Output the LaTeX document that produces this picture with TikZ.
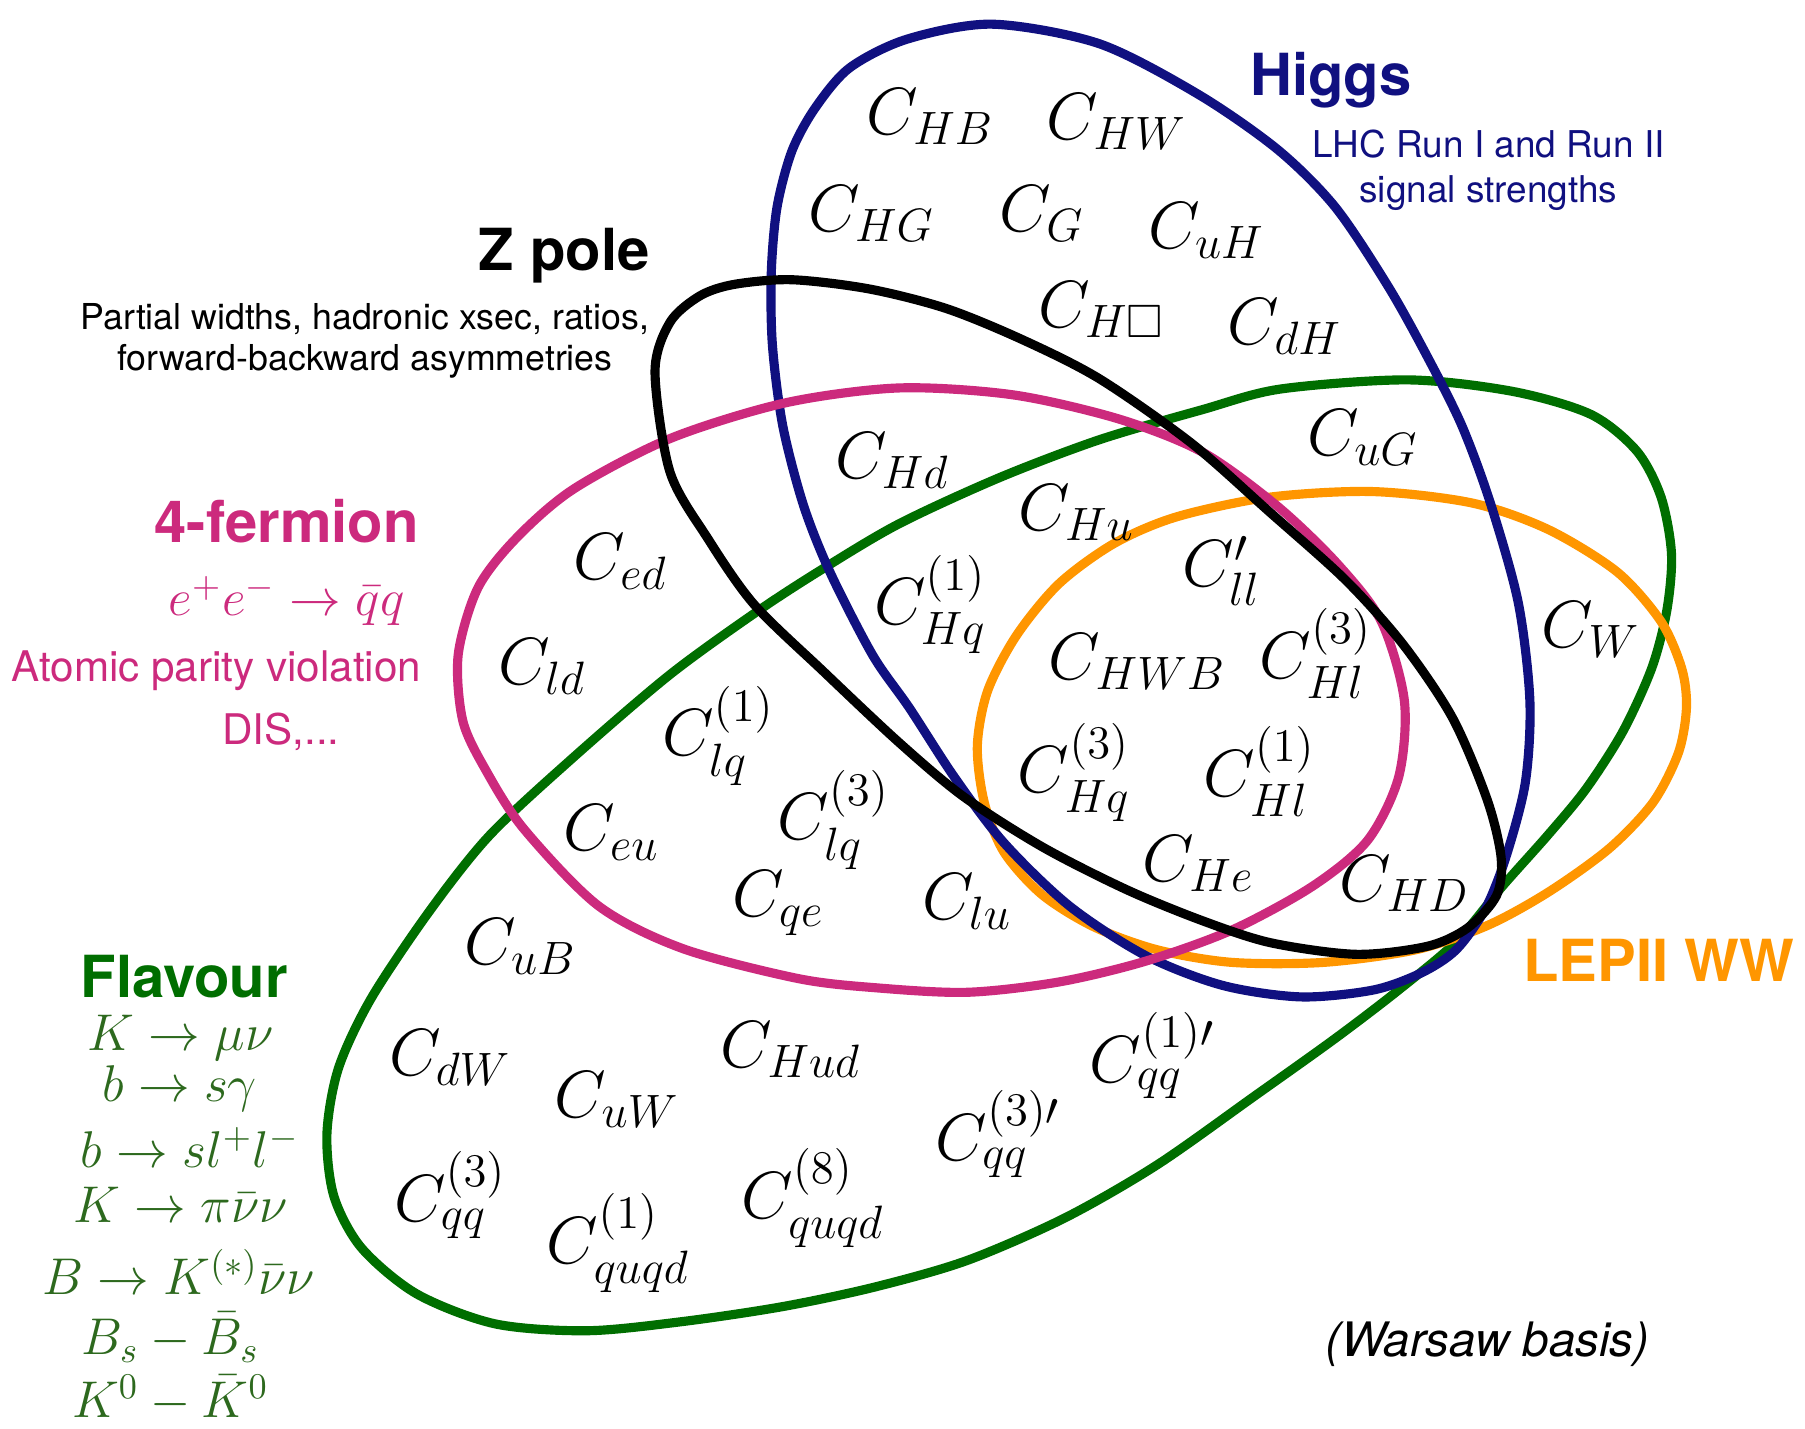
\RequirePackage{fix-cm}
\documentclass[tikz,border=0pt]{standalone}
\usepackage{amssymb}
\usepackage[no-math]{fontspec}
\newfontfamily\helv{TeX Gyre Heros}
\usetikzlibrary{positioning}

\definecolor{higgsblue}{RGB}{16,16,128}
\definecolor{fermimag}{RGB}{204,42,125}
\definecolor{flavgreen}{RGB}{0,110,0}
\definecolor{flavtext}{RGB}{45,105,30}
\definecolor{leporange}{RGB}{255,150,0}

\begin{document}
\begin{tikzpicture}[
    x=0.0115cm, y=-0.0115cm,
    ring/.style={line width=2.6pt, line join=round},
    coef/.style={font=\fontsize{19}{23}\selectfont, inner sep=0pt},
    headline/.style={font=\helv\bfseries\fontsize{16.5}{19}\selectfont, inner sep=0pt},
    remark/.style={font=\helv\fontsize{10.15}{11.5}\selectfont, align=center, inner sep=0pt},
    process/.style={font=\fontsize{14.7}{18}\selectfont, inner sep=0pt}
]
\useasboundingbox (0,0) rectangle (1568,1241);

% Flavour
\draw[ring, flavgreen] plot[smooth cycle] coordinates {
    (1044,356) (1112,338) (1223,330) (1314,340) (1382,360) (1422,392) (1443,432)
    (1452,481) (1448,530) (1435,580) (1410,635) (1378,685) (1345,725) (1305,770)
    (1265,818) (1215,860) (1160,902) (1090,952) (1005,1012) (925,1058) (840,1095)
    (760,1118) (680,1135) (593,1148) (510,1156) (430,1150) (362,1124) (314,1084)
    (290,1039) (284,985) (294,928) (322,868) (372,793) (425,726) (498,658)
    (582,586) (658,531) (715,494) (781,455) (868,415) (955,382)};
% LEPII WW
\draw[ring, leporange] plot[smooth cycle] coordinates {
    (849,648) (858,600) (883,552) (920,507) (968,472) (1022,449) (1102,432)
    (1192,427) (1279,437) (1345,460) (1405,497) (1443,540) (1461,581) (1465,615)
    (1458,654) (1436,697) (1398,737) (1345,775) (1292,804) (1230,825) (1150,836)
    (1070,836) (1005,825) (950,805) (905,777) (872,740) (855,697)};
% Higgs
\draw[ring, higgsblue] plot[smooth cycle] coordinates {
    (862,21) (955,38) (1041,82) (1110,130) (1160,180) (1206,249) (1240,310)
    (1270,370) (1295,438) (1319,524) (1329,609) (1325,680) (1308,745) (1290,790)
    (1265,825) (1235,845) (1193,860) (1130,866) (1062,856) (995,830) (929,787)
    (872,732) (829,675) (790,615) (758,569) (721,497) (698,439) (680,370)
    (671,300) (670,237) (675,180) (688,131) (708,94) (738,59) (788,34)};
% 4-fermion
\draw[ring, fermimag] plot[smooth cycle] coordinates {
    (498,425) (582,381) (682,350) (781,337) (880,343) (972,364) (1045,393)
    (1110,440) (1162,490) (1200,540) (1220,609) (1215,675) (1188,730) (1140,770)
    (1070,808) (995,835) (920,853) (840,862) (760,858) (693,850) (593,824)
    (520,787) (455,720) (422,669) (402,626) (398,569) (415,511) (448,468)};
% Z pole
\draw[ring, black] plot[smooth cycle] coordinates {
    (569,323) (582,280) (608,257) (638,247) (688,243) (755,251) (822,268)
    (888,295) (955,329) (1035,385) (1102,444) (1169,504) (1219,560) (1262,624)
    (1292,695) (1304,745) (1300,778) (1275,806) (1240,822) (1178,829) (1104,819)
    (1045,800) (979,773) (906,736) (837,692) (781,645) (715,583) (655,525)
    (615,468) (582,410)};

% coefficients
\node[coef] (chb) at (808,101) {$C_{HB}$};
\node[coef] (chw) at (970,106) {$C_{HW}$};
\node[coef] (chg) at (757,186) {$C_{HG}$};
\node[coef] (cg) at (905,186) {$C_{G}$};
\node[coef] (cuh) at (1048,200) {$C_{uH}$};
\node[coef] (chbox) at (957,269) {$C_{H\square}$};
\node[coef] (cdh) at (1116,284) {$C_{dH}$};
\node[coef] (cug) at (1184,380) {$C_{uG}$};
\node[coef] (chd) at (775,400) {$C_{Hd}$};
\node[coef] (chu) at (935,445) {$C_{Hu}$};
\node[coef] (cll) at (1061,496) {$C'_{ll}$};
\node[coef] (ced) at (539,488) {$C_{ed}$};
\node[coef] (chq1) at (808,525) {$C^{(1)}_{Hq}$};
\node[coef] (chwb) at (988,575) {$C_{HWB}$};
\node[coef] (chl3) at (1143,568) {$C^{(3)}_{Hl}$};
\node[coef] (cw) at (1382,547) {$C_{W}$};
\node[coef] (cld) at (471,579) {$C_{ld}$};
\node[coef] (clq1) at (624,639) {$C^{(1)}_{lq}$};
\node[coef] (chq3) at (933,671) {$C^{(3)}_{Hq}$};
\node[coef] (chl1) at (1094,670) {$C^{(1)}_{Hl}$};
\node[coef] (clq3) at (724,712) {$C^{(3)}_{lq}$};
\node[coef] (ceu) at (531,723) {$C_{eu}$};
\node[coef] (che) at (1041,750) {$C_{He}$};
\node[coef] (chdd) at (1220,768) {$C_{HD}$};
\node[coef] (cqe) at (676,785) {$C_{qe}$};
\node[coef] (clu) at (840,783) {$C_{lu}$};
\node[coef] (cub) at (452,822) {$C_{uB}$};
\node[coef] (cdw) at (391,919) {$C_{dW}$};
\node[coef] (chud) at (687,912) {$C_{Hud}$};
\node[coef] (cqq1p) at (1001,917) {$C^{(1)\prime}_{qq}$};
\node[coef] (cuw) at (536,955) {$C_{uW}$};
\node[coef] (cqq3p) at (867,985) {$C^{(3)\prime}_{qq}$};
\node[coef] (cqq3) at (391,1038) {$C^{(3)}_{qq}$};
\node[coef] (cquqd8) at (706,1041) {$C^{(8)}_{quqd}$};
\node[coef] (cquqd1) at (537,1080) {$C^{(1)}_{quqd}$};

% Higgs labels
\node[headline, higgsblue] (higgs) at (1156,70) {Higgs};
\node[remark, higgsblue, font=\helv\fontsize{10.5}{12.8}\selectfont] (higgsnote) at (1293,148)
    {LHC Run I and Run II\\signal strengths};

% Z pole labels
\node[headline] (zpole) at (490,222) {Z pole};
\node[remark] (zpolenote) at (317,296)
    {Partial widths, hadronic xsec, ratios,\\forward-backward asymmetries};

% 4-fermion labels
\node[headline, fermimag] (fourf) at (249,453) {4-fermion};
\node[process, fermimag] (eeqq) at (249,522) {$e^+e^-\to\bar{q}q$};
\node[remark, fermimag, font=\helv\fontsize{12}{14}\selectfont] (apv) at (188,583) {Atomic parity violation};
\node[remark, fermimag, font=\helv\fontsize{12}{14}\selectfont] (dis) at (244,636) {DIS,...};

% Flavour labels
\node[headline, flavgreen] (flavour) at (160,848) {Flavour};
\node[process, flavtext] (kmunu) at (157,902) {$K\to\mu\nu$};
\node[process, flavtext] (bsg) at (156,946) {$b\to s\gamma$};
\node[process, flavtext] (bsll) at (165,997) {$b\to sl^+l^-$};
\node[process, flavtext] (kpinn) at (157,1047) {$K\to\pi\bar{\nu}\nu$};
\node[process, flavtext] (bknn) at (155,1105) {$B\to K^{(*)}\bar{\nu}\nu$};
\node[process, flavtext] (bsmix) at (148,1162) {$B_s-\bar{B}_s$};
\node[process, flavtext] (kmix) at (148,1215) {$K^0-\bar{K}^0$};

% LEP labels
\node[headline, leporange] (lepww) at (1441,834) {LEPII WW};
\node[font=\helv\itshape\fontsize{13.5}{16}\selectfont, inner sep=0pt] (basis) at (1292,1168) {(Warsaw basis)};
\end{tikzpicture}
\end{document}
